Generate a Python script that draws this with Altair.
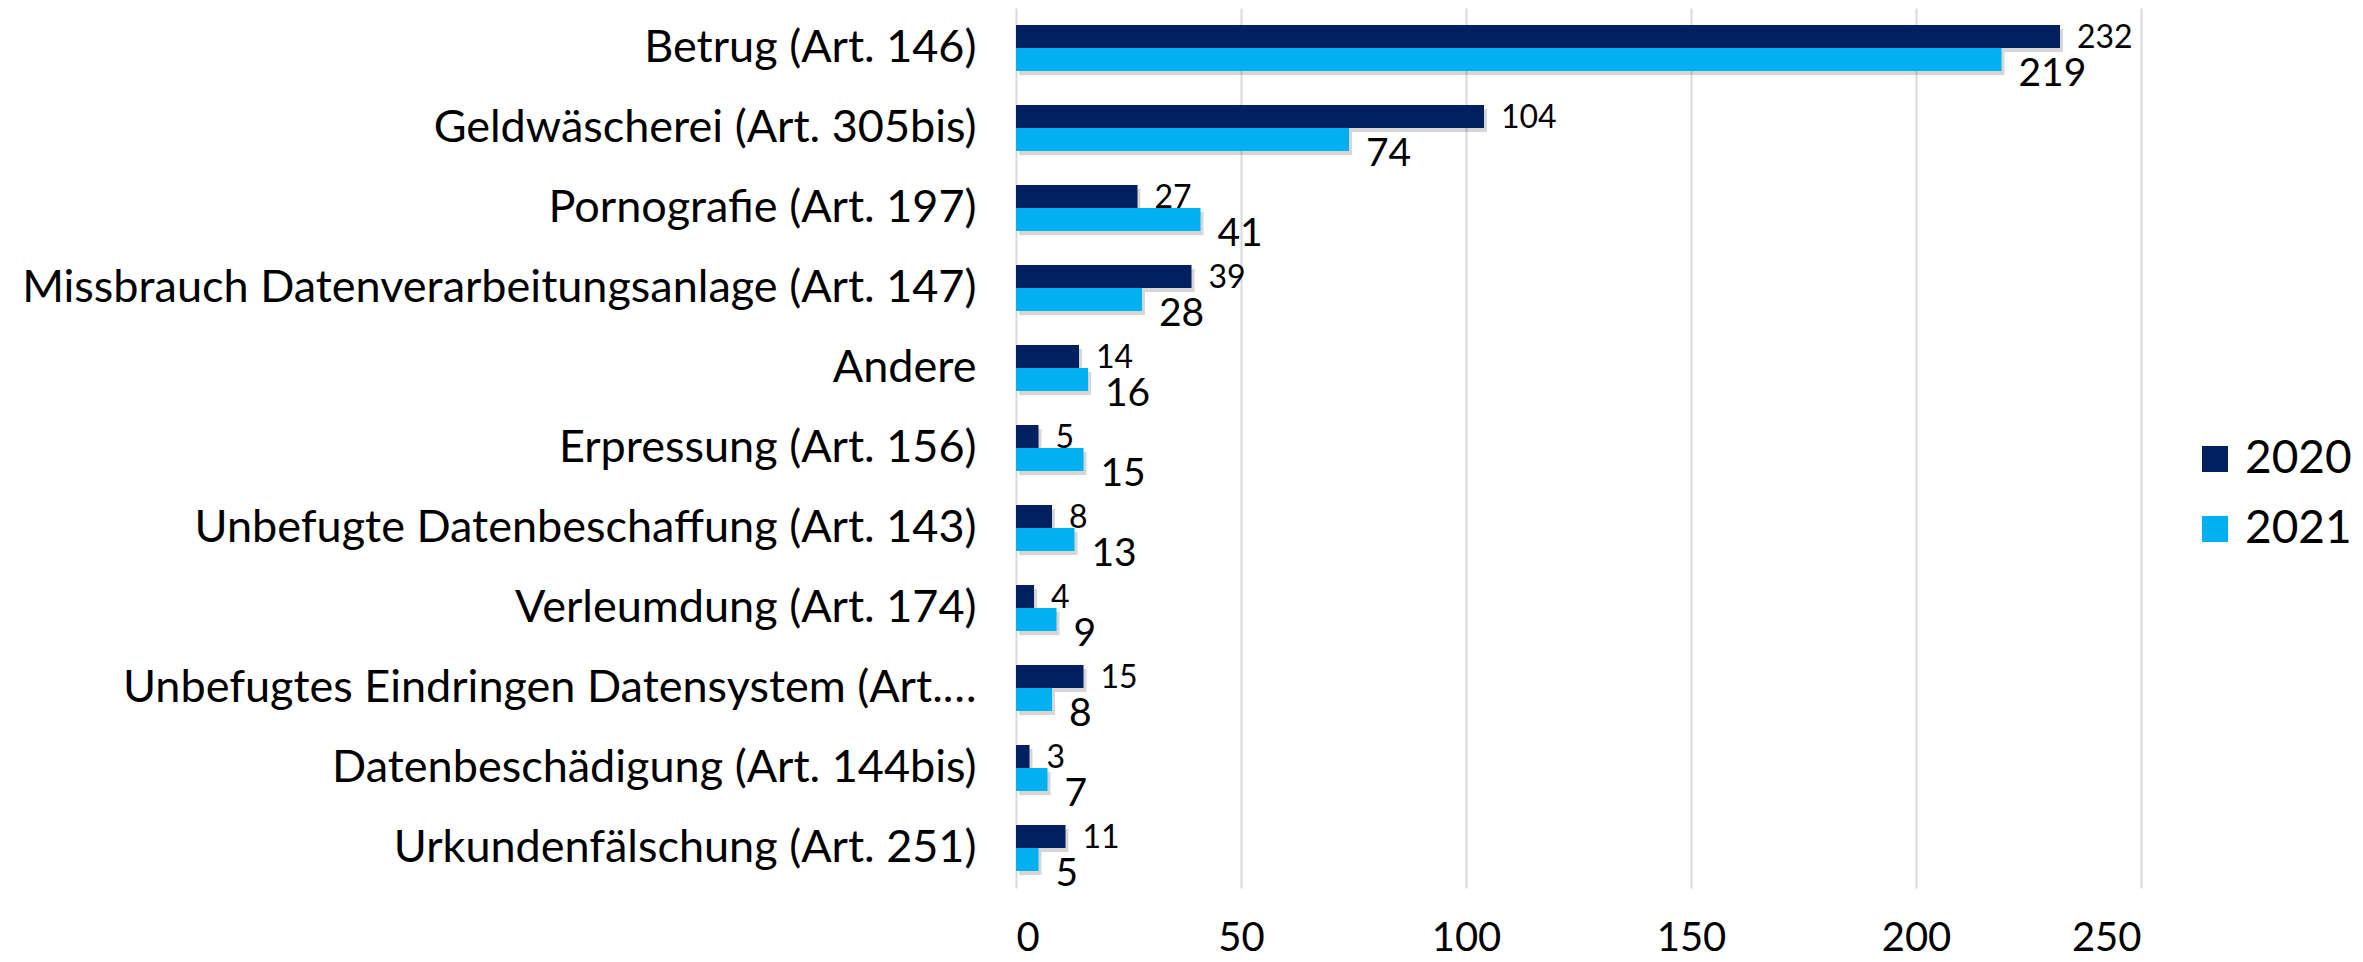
import altair as alt
import pandas as pd

categories = [
    "Betrug (Art. 146)",
    "Geldwäscherei (Art. 305bis)",
    "Pornografie (Art. 197)",
    "Missbrauch Datenverarbeitungsanlage (Art. 147)",
    "Andere",
    "Erpressung (Art. 156)",
    "Unbefugte Datenbeschaffung (Art. 143)",
    "Verleumdung (Art. 174)",
    "Unbefugtes Eindringen Datensystem (Art.…",
    "Datenbeschädigung (Art. 144bis)",
    "Urkundenfälschung (Art. 251)",
]
years = ["2020", "2021"]
values_2020 = [232, 104, 27, 39, 14, 5, 8, 4, 15, 3, 11]
values_2021 = [219, 74, 41, 28, 16, 15, 13, 9, 8, 7, 5]
x_ticks = [0, 50, 100, 150, 200, 250]
colors = ["#002060", "#00B0F0"]

rows = []
for c, a, b in zip(categories, values_2020, values_2021):
    rows.append({"cat": c, "year": years[0], "value": a})
    rows.append({"cat": c, "year": years[1], "value": b})
df = pd.DataFrame(rows)

FONT = "Lato"

y_enc = alt.Y(
    "cat:N",
    sort=categories,
    scale=alt.Scale(paddingInner=0.425, paddingOuter=0.2125),
    axis=alt.Axis(
        title=None, labelFont=FONT, labelFontSize=45, labelColor="black",
        labelPadding=40, ticks=False, domain=False, labelLimit=1200, grid=False,
    ),
)
yoff_enc = alt.YOffset("year:N", sort=years, scale=alt.Scale(domain=years))
x_enc = alt.X(
    "value:Q",
    scale=alt.Scale(domain=[0, 250], nice=False),
    axis=alt.Axis(
        values=x_ticks, title=None, grid=True, gridColor="#d9d9d9", gridWidth=2,
        ticks=False, tickSize=0, domain=False, labelFont=FONT, labelFontSize=40,
        labelColor="black", labelPadding=30,
    ),
)

base = alt.Chart(df)

shadow = base.mark_bar(color="#000000", opacity=0.16).encode(
    y=alt.Y("cat:N", sort=categories),
    yOffset=alt.YOffset("year:N", sort=years, scale=alt.Scale(domain=years, range=[4, 50])),
    xOffset=alt.XOffset(value=3),
    x="value:Q",
)

bars = base.mark_bar().encode(
    y=y_enc,
    yOffset=yoff_enc,
    x=x_enc,
    color=alt.Color(
        "year:N",
        scale=alt.Scale(domain=years, range=colors),
        legend=alt.Legend(
            title=None, orient="none", legendX=1176, legendY=428, padding=0,
            labelFont=FONT, labelFontSize=46, labelColor="black",
            symbolType="square", symbolSize=676, symbolStrokeWidth=0,
            labelOffset=7, rowPadding=24,
        ),
    ),
)

t2020 = base.transform_filter(alt.datum.year == "2020").mark_text(
    align="left", baseline="middle", dx=17, dy=1, fontSize=32, font=FONT, color="black"
).encode(y=alt.Y("cat:N", sort=categories), yOffset=yoff_enc, x="value:Q", text="value:Q")

t2021 = base.transform_filter(alt.datum.year == "2021").mark_text(
    align="left", baseline="middle", dx=17, dy=14, fontSize=39, font=FONT, color="black"
).encode(y=alt.Y("cat:N", sort=categories), yOffset=yoff_enc, x="value:Q", text="value:Q")

chart = alt.layer(shadow, bars, t2020, t2021).resolve_scale(
    yOffset="independent"
).properties(
    width=1125,
    height=880,
    padding={"left": 1008, "top": 0, "right": 214, "bottom": 66},
    autosize=alt.AutoSizeParams(type="none"),
).configure_view(stroke=None)

chart.save("out.html", embed_options={"renderer": "svg", "actions": False})
